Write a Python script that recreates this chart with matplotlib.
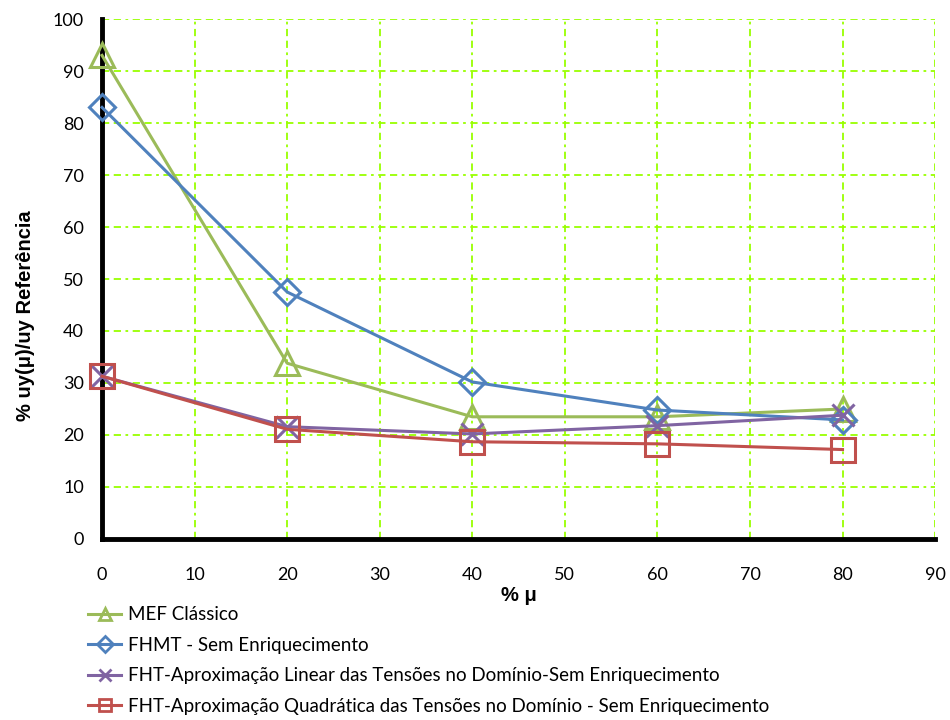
import matplotlib
matplotlib.use("Agg")
import matplotlib.pyplot as plt

# Percent of mu removed
mu = [0, 20, 40, 60, 80]

# Displacement ratio (%) for each formulation
mef_classico = [93.0, 33.8, 23.5, 23.5, 25.0]
fhmt_sem_enriq = [83.0, 47.5, 30.2, 24.8, 22.9]
fht_linear = [31.3, 21.6, 20.2, 21.8, 23.8]
fht_quadratica = [31.3, 21.1, 18.7, 18.3, 17.2]

labels = [
    "MEF Clássico",
    "FHMT - Sem Enriquecimento",
    "FHT-Aproximação Linear das Tensões no Domínio-Sem Enriquecimento",
    "FHT-Aproximação Quadrática das Tensões no Domínio - Sem Enriquecimento",
]

x_ticks = [0, 10, 20, 30, 40, 50, 60, 70, 80, 90]
y_ticks = [0, 10, 20, 30, 40, 50, 60, 70, 80, 90, 100]

tick_font = "Lato"

fig = plt.figure(figsize=(9.5, 7.2), dpi=100)
ax = fig.add_axes([0.1074, 0.2514, 0.8769, 0.7222])

styles = [
    (mef_classico, "#9BBB59", "^", 17),
    (fhmt_sem_enriq, "#4F81BD", "D", 13),
    (fht_linear, "#8064A2", "x", 16),
    (fht_quadratica, "#C0504D", "s", 17),
]

for (vals, col, mk, ms), lab in zip(styles, labels):
    ax.plot(mu, vals, color=col, lw=2.2, marker=mk, ms=ms,
            mfc="none", mec=col, mew=2.2, label=lab, zorder=5,
            clip_on=False)

ax.set_xlim(0, 90)
ax.set_ylim(0, 100)
ax.set_xticks(x_ticks)
ax.set_yticks(y_ticks)
ax.tick_params(axis="x", length=0, pad=20, labelsize=13)
ax.tick_params(axis="y", length=0, pad=13, labelsize=13)
for t in ax.get_xticklabels() + ax.get_yticklabels():
    t.set_fontfamily(tick_font)

ax.grid(True, color="#99FF00", lw=1.3,
        linestyle=(0, (4, 2.5, 4, 2.5, 1.5, 2.5)))
ax.set_axisbelow(True)

for s in ("top", "right"):
    ax.spines[s].set_visible(False)
for s in ("left", "bottom"):
    ax.spines[s].set_linewidth(3.5)
    ax.spines[s].set_color("black")
    ax.spines[s].set_zorder(4)

ax.set_xlabel("% μ", fontsize=14.5, fontweight="bold",
              fontfamily="Liberation Sans")
ax.xaxis.set_label_coords(0.5, -0.091)
ax.set_ylabel("% uy(μ)/uy Referência", fontsize=14.5, fontweight="bold",
              fontfamily="Liberation Sans")
ax.yaxis.set_label_coords(-0.081, 0.43)

leg_handles = []
for (vals, col, mk, ms) in styles:
    (lh,) = ax.plot([], [], color=col, lw=2.2, marker=mk, ms=8,
                    mfc="none", mec=col, mew=2.0)
    leg_handles.append(lh)

fig.legend(leg_handles, labels, loc="upper left",
           bbox_to_anchor=(0.093, 0.158), frameon=False,
           prop={"family": tick_font, "size": 13.5},
           handlelength=1.75, handletextpad=0.35, labelspacing=0.72,
           borderaxespad=0, borderpad=0)

fig.savefig("out.png", dpi=100)
